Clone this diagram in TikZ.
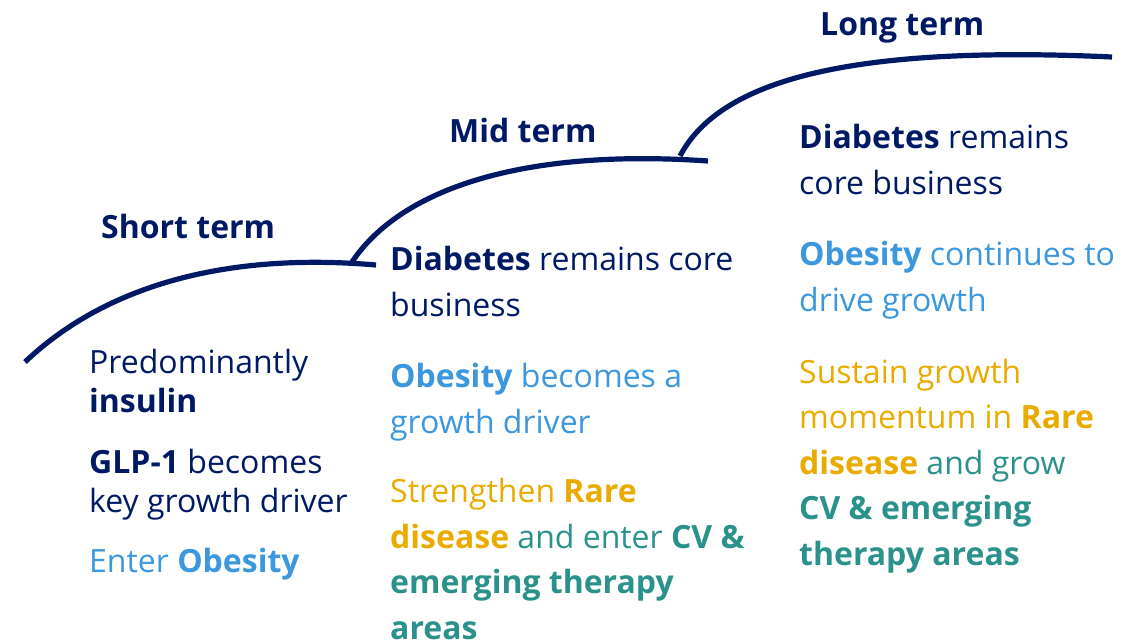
\documentclass[tikz,border=0pt]{standalone}
\usepackage{fontspec}
\setmainfont{Open Sans}
\definecolor{navy}{HTML}{001965}
\definecolor{lblue}{HTML}{3B97DE}
\definecolor{gold}{HTML}{EAAB00}
\definecolor{teal}{HTML}{2A918B}
\begin{document}
\begin{tikzpicture}[x=1pt,y=-1pt,
  stair/.style={draw=navy,line width=5.2pt},
  ttl/.style={anchor=base west,inner sep=0pt,text=navy,font=\fontsize{32}{38}\selectfont\bfseries},
  txtA/.style={anchor=base west,inner sep=0pt,align=left,font=\fontsize{32}{39}\selectfont},
  txtB/.style={anchor=base west,inner sep=0pt,align=left,font=\fontsize{32}{45.5}\selectfont}]
\useasboundingbox (0,0) rectangle (1143,643);
% stair curves
\coordinate (s0) at (25,362);
\coordinate (s1) at (352,262);
\coordinate (e1) at (376,265);
\coordinate (s2) at (680,156);
\coordinate (e2) at (708,161);
\coordinate (e3) at (1112,57);
\draw[stair] (s0) .. controls (90,300) and (200,250) .. (e1);
\draw[stair] (s1) .. controls (400,190) and (520,148) .. (e2);
\draw[stair] (s2) .. controls (720,80) and (850,45) .. (e3);
% titles
\node[ttl] (tshort) at (101,238) {Short term};
\node[ttl] (tmid) at (449,142) {Mid term};
\node[ttl] (tlong) at (820,35) {Long term};
% column 1 (anchored at last baseline)
\node[txtA,text=navy] (a1) at (89,412) {Predominantly\\\textbf{insulin}};
\node[txtA,text=navy] (a2) at (89,512) {\textbf{GLP-1} becomes\\key growth driver};
\node[txtA,text=lblue] (a3) at (89,572) {Enter \textbf{Obesity}};
% column 2
\node[txtB,text=navy] (b1) at (390,316) {\textbf{Diabetes} remains core\\business};
\node[txtB,text=lblue] (b2) at (390,433) {\textbf{Obesity} becomes a\\growth driver};
\node[txtB,text=teal] (b3) at (390,639) {\textcolor{gold}{Strengthen \textbf{Rare}}\\\textcolor{gold}{\textbf{disease}} and enter \textbf{CV \&}\\\textbf{emerging therapy}\\\textbf{areas}};
% column 3
\node[txtB,text=navy] (c1) at (799,194) {\textbf{Diabetes} remains\\core business};
\node[txtB,text=lblue] (c2) at (799,311) {\textbf{Obesity} continues to\\drive growth};
\node[txtB,text=teal] (c3) at (799,565) {\textcolor{gold}{Sustain growth}\\\textcolor{gold}{momentum in \textbf{Rare}}\\\textcolor{gold}{\textbf{disease}} and grow\\\textbf{CV \& emerging}\\\textbf{therapy areas}};
\end{tikzpicture}
\end{document}
